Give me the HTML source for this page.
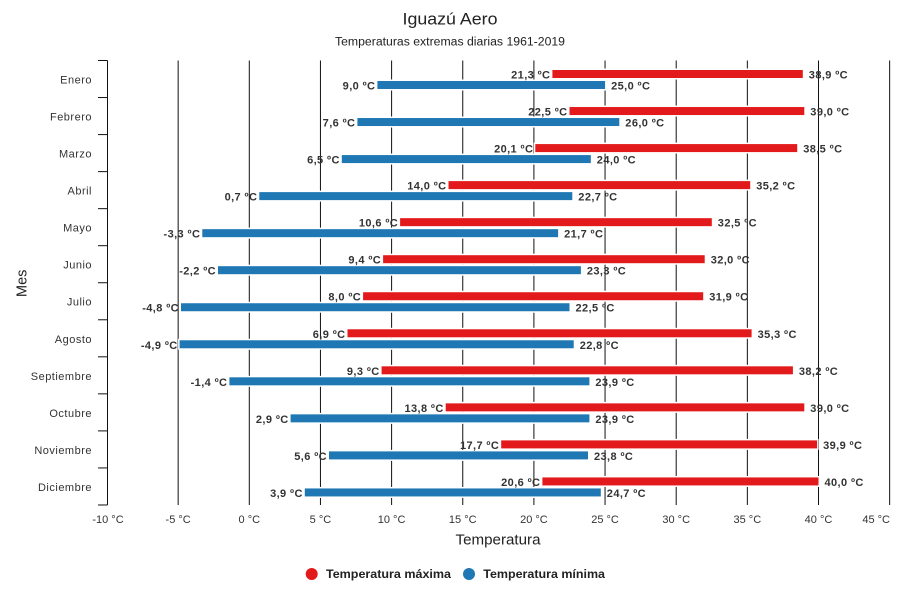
<!DOCTYPE html>
<html><head><meta charset="utf-8"><style>
html,body{margin:0;padding:0;background:#fff;}
svg{display:block;}
text{font-family:"Liberation Sans",Arial,sans-serif;}
.g{stroke:#111;stroke-width:1;}
.dl{font-size:11px;font-weight:bold;fill:#333;letter-spacing:0.4px;}
.cat{font-size:11px;fill:#333;letter-spacing:0.5px;}
.tk{font-size:11px;fill:#333;}
.r{fill:#e31a1c;stroke:#fff;stroke-width:3;paint-order:stroke;}
.b{fill:#1f78b4;stroke:#fff;stroke-width:3;paint-order:stroke;}
</style></head><body>
<svg width="900" height="600" viewBox="0 0 900 600" xmlns="http://www.w3.org/2000/svg">
<rect width="900" height="600" fill="#fff"/>
<text x="450" y="24.5" text-anchor="middle" font-size="17" fill="#222" textLength="95" lengthAdjust="spacingAndGlyphs">Iguazú Aero</text>
<text x="450" y="45.7" text-anchor="middle" font-size="11.5" fill="#222" textLength="230" lengthAdjust="spacingAndGlyphs">Temperaturas extremas diarias 1961-2019</text>

<!-- gridlines -->
<g class="g">
<line x1="178.15" y1="60.5" x2="178.15" y2="505"/>
<line x1="249.3" y1="60.5" x2="249.3" y2="505"/>
<line x1="320.45" y1="60.5" x2="320.45" y2="505"/>
<line x1="391.6" y1="60.5" x2="391.6" y2="505"/>
<line x1="462.75" y1="60.5" x2="462.75" y2="505"/>
<line x1="533.9" y1="60.5" x2="533.9" y2="505"/>
<line x1="605.05" y1="60.5" x2="605.05" y2="505"/>
<line x1="676.2" y1="60.5" x2="676.2" y2="505"/>
<line x1="747.35" y1="60.5" x2="747.35" y2="505"/>
<line x1="818.5" y1="60.5" x2="818.5" y2="505"/>
<line x1="889.65" y1="60.5" x2="889.65" y2="505"/>
<!-- y axis -->
<line x1="107.5" y1="60.5" x2="107.5" y2="505"/>
<line x1="98" y1="60.5" x2="107.5" y2="60.5"/>
<line x1="98" y1="97.54" x2="107.5" y2="97.54"/>
<line x1="98" y1="134.58" x2="107.5" y2="134.58"/>
<line x1="98" y1="171.62" x2="107.5" y2="171.62"/>
<line x1="98" y1="208.66" x2="107.5" y2="208.66"/>
<line x1="98" y1="245.7" x2="107.5" y2="245.7"/>
<line x1="98" y1="282.74" x2="107.5" y2="282.74"/>
<line x1="98" y1="319.78" x2="107.5" y2="319.78"/>
<line x1="98" y1="356.82" x2="107.5" y2="356.82"/>
<line x1="98" y1="393.86" x2="107.5" y2="393.86"/>
<line x1="98" y1="430.9" x2="107.5" y2="430.9"/>
<line x1="98" y1="467.94" x2="107.5" y2="467.94"/>
<line x1="98" y1="504.98" x2="107.5" y2="504.98"/>
</g>

<!-- x tick labels -->
<g class="tk" text-anchor="middle">
<text x="108" y="523">-10 °C</text>
<text x="178.15" y="523">-5 °C</text>
<text x="249.3" y="523">0 °C</text>
<text x="320.45" y="523">5 °C</text>
<text x="391.6" y="523">10 °C</text>
<text x="462.75" y="523">15 °C</text>
<text x="533.9" y="523">20 °C</text>
<text x="605.05" y="523">25 °C</text>
<text x="676.2" y="523">30 °C</text>
<text x="747.35" y="523">35 °C</text>
<text x="818.5" y="523">40 °C</text>
<text x="890" y="523" text-anchor="end">45 °C</text>
</g>
<text x="498" y="544.3" text-anchor="middle" font-size="14.5" fill="#222" textLength="85" lengthAdjust="spacingAndGlyphs">Temperatura</text>
<text transform="translate(26.5,283.3) rotate(-90)" text-anchor="middle" font-size="14.5" fill="#222">Mes</text>

<!-- months -->
<g transform="translate(0,60.5)">
<text class="cat" x="92" y="23" text-anchor="end">Enero</text>
<rect class="r" x="552.4" y="9.5" width="250.4" height="8"/>
<rect class="b" x="377.4" y="20.5" width="227.7" height="8"/>
<text class="dl" x="550.4" y="18" text-anchor="end">21,3 ºC</text>
<text class="dl" x="808.8" y="18">38,9 ºC</text>
<text class="dl" x="375.4" y="29" text-anchor="end">9,0 ºC</text>
<text class="dl" x="611.1" y="29">25,0 ºC</text>
</g>
<g transform="translate(0,97.54)">
<text class="cat" x="92" y="23" text-anchor="end">Febrero</text>
<rect class="r" x="569.5" y="9.5" width="234.8" height="8"/>
<rect class="b" x="357.4" y="20.5" width="261.9" height="8"/>
<text class="dl" x="567.5" y="18" text-anchor="end">22,5 ºC</text>
<text class="dl" x="810.3" y="18">39,0 ºC</text>
<text class="dl" x="355.4" y="29" text-anchor="end">7,6 ºC</text>
<text class="dl" x="625.3" y="29">26,0 ºC</text>
</g>
<g transform="translate(0,134.58)">
<text class="cat" x="92" y="23" text-anchor="end">Marzo</text>
<rect class="r" x="535.3" y="9.5" width="261.9" height="8"/>
<rect class="b" x="341.8" y="20.5" width="249.0" height="8"/>
<text class="dl" x="533.3" y="18" text-anchor="end">20,1 ºC</text>
<text class="dl" x="803.2" y="18">38,5 ºC</text>
<text class="dl" x="339.8" y="29" text-anchor="end">6,5 ºC</text>
<text class="dl" x="596.8" y="29">24,0 ºC</text>
</g>
<g transform="translate(0,171.62)">
<text class="cat" x="92" y="23" text-anchor="end">Abril</text>
<rect class="r" x="448.5" y="9.5" width="301.7" height="8"/>
<rect class="b" x="259.3" y="20.5" width="313.0" height="8"/>
<text class="dl" x="446.5" y="18" text-anchor="end">14,0 ºC</text>
<text class="dl" x="756.2" y="18">35,2 ºC</text>
<text class="dl" x="257.3" y="29" text-anchor="end">0,7 ºC</text>
<text class="dl" x="578.3" y="29">22,7 ºC</text>
</g>
<g transform="translate(0,208.66)">
<text class="cat" x="92" y="23" text-anchor="end">Mayo</text>
<rect class="r" x="400.1" y="9.5" width="311.7" height="8"/>
<rect class="b" x="202.3" y="20.5" width="355.8" height="8"/>
<text class="dl" x="398.1" y="18" text-anchor="end">10,6 ºC</text>
<text class="dl" x="717.8" y="18">32,5 ºC</text>
<text class="dl" x="200.3" y="29" text-anchor="end">-3,3 ºC</text>
<text class="dl" x="564.1" y="29">21,7 ºC</text>
</g>
<g transform="translate(0,245.7)">
<text class="cat" x="92" y="23" text-anchor="end">Junio</text>
<rect class="r" x="383.1" y="9.5" width="321.6" height="8"/>
<rect class="b" x="218.0" y="20.5" width="362.9" height="8"/>
<text class="dl" x="381.1" y="18" text-anchor="end">9,4 ºC</text>
<text class="dl" x="710.7" y="18">32,0 ºC</text>
<text class="dl" x="216.0" y="29" text-anchor="end">-2,2 ºC</text>
<text class="dl" x="586.9" y="29">23,3 ºC</text>
</g>
<g transform="translate(0,282.74)">
<text class="cat" x="92" y="23" text-anchor="end">Julio</text>
<rect class="r" x="363.1" y="9.5" width="340.1" height="8"/>
<rect class="b" x="181.0" y="20.5" width="388.5" height="8"/>
<text class="dl" x="361.1" y="18" text-anchor="end">8,0 ºC</text>
<text class="dl" x="709.2" y="18">31,9 ºC</text>
<text class="dl" x="179.0" y="29" text-anchor="end">-4,8 ºC</text>
<text class="dl" x="575.5" y="29">22,5 ºC</text>
</g>
<g transform="translate(0,319.78)">
<text class="cat" x="92" y="23" text-anchor="end">Agosto</text>
<rect class="r" x="347.5" y="9.5" width="404.1" height="8"/>
<rect class="b" x="179.6" y="20.5" width="394.1" height="8"/>
<text class="dl" x="345.5" y="18" text-anchor="end">6,9 ºC</text>
<text class="dl" x="757.6" y="18">35,3 ºC</text>
<text class="dl" x="177.6" y="29" text-anchor="end">-4,9 ºC</text>
<text class="dl" x="579.7" y="29">22,8 ºC</text>
</g>
<g transform="translate(0,356.82)">
<text class="cat" x="92" y="23" text-anchor="end">Septiembre</text>
<rect class="r" x="381.6" y="9.5" width="411.3" height="8"/>
<rect class="b" x="229.4" y="20.5" width="360.0" height="8"/>
<text class="dl" x="379.6" y="18" text-anchor="end">9,3 ºC</text>
<text class="dl" x="798.9" y="18">38,2 ºC</text>
<text class="dl" x="227.4" y="29" text-anchor="end">-1,4 ºC</text>
<text class="dl" x="595.4" y="29">23,9 ºC</text>
</g>
<g transform="translate(0,393.86)">
<text class="cat" x="92" y="23" text-anchor="end">Octubre</text>
<rect class="r" x="445.7" y="9.5" width="358.6" height="8"/>
<rect class="b" x="290.6" y="20.5" width="298.8" height="8"/>
<text class="dl" x="443.7" y="18" text-anchor="end">13,8 ºC</text>
<text class="dl" x="810.3" y="18">39,0 ºC</text>
<text class="dl" x="288.6" y="29" text-anchor="end">2,9 ºC</text>
<text class="dl" x="595.4" y="29">23,9 ºC</text>
</g>
<g transform="translate(0,430.9)">
<text class="cat" x="92" y="23" text-anchor="end">Noviembre</text>
<rect class="r" x="501.2" y="9.5" width="315.9" height="8"/>
<rect class="b" x="329.0" y="20.5" width="259.0" height="8"/>
<text class="dl" x="499.2" y="18" text-anchor="end">17,7 ºC</text>
<text class="dl" x="823.1" y="18">39,9 ºC</text>
<text class="dl" x="327.0" y="29" text-anchor="end">5,6 ºC</text>
<text class="dl" x="594.0" y="29">23,8 ºC</text>
</g>
<g transform="translate(0,467.94)">
<text class="cat" x="92" y="23" text-anchor="end">Diciembre</text>
<rect class="r" x="542.4" y="9.5" width="276.1" height="8"/>
<rect class="b" x="304.8" y="20.5" width="296.0" height="8"/>
<text class="dl" x="540.4" y="18" text-anchor="end">20,6 ºC</text>
<text class="dl" x="824.5" y="18">40,0 ºC</text>
<text class="dl" x="302.8" y="29" text-anchor="end">3,9 ºC</text>
<text class="dl" x="606.8" y="29">24,7 ºC</text>
</g>

<!-- legend -->
<circle cx="311.7" cy="574" r="6" fill="#e31a1c"/>
<text x="326" y="578" font-size="12" font-weight="bold" fill="#222" textLength="125" lengthAdjust="spacingAndGlyphs">Temperatura máxima</text>
<circle cx="469" cy="574" r="6" fill="#1f78b4"/>
<text x="483.3" y="578" font-size="12" font-weight="bold" fill="#222" textLength="121.7" lengthAdjust="spacingAndGlyphs">Temperatura mínima</text>
</svg>
</body></html>
